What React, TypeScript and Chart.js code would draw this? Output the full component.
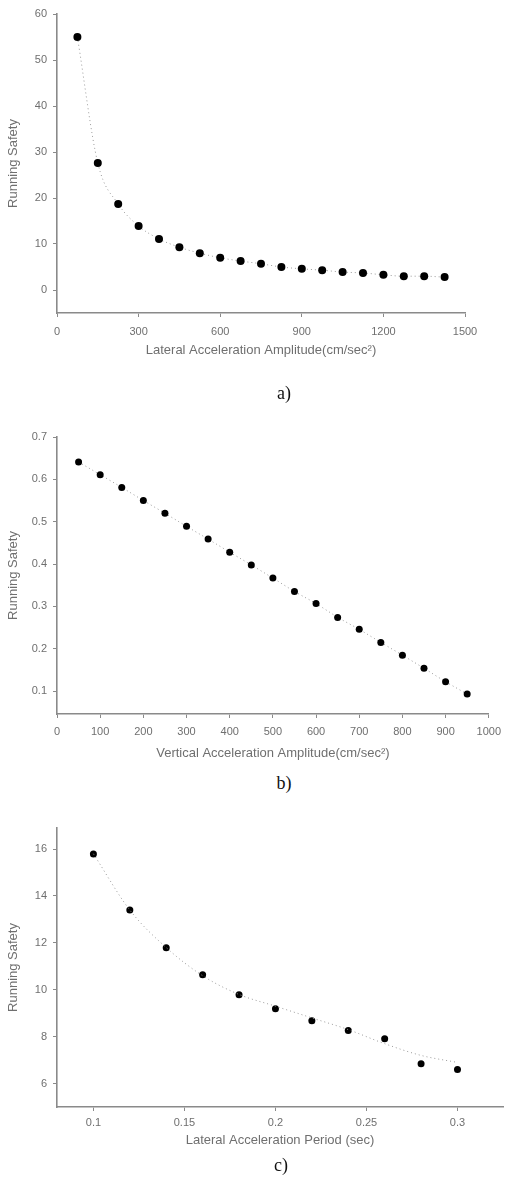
import React, { useEffect, useRef } from "react";
import { Chart, registerables } from "chart.js";

Chart.register(...registerables);

// ---------- chart a) ----------
const aX = [75, 150, 225, 300, 375, 450, 525, 600, 675, 750, 825, 900, 975, 1050, 1125, 1200, 1275, 1350, 1425];
const aY = [55.0, 27.6, 18.7, 13.9, 11.1, 9.3, 8.0, 7.0, 6.3, 5.7, 5.0, 4.6, 4.3, 3.9, 3.7, 3.3, 3.0, 3.0, 2.8];
const aXTicks = [0, 300, 600, 900, 1200, 1500];
const aYTicks = [0, 10, 20, 30, 40, 50, 60];

// ---------- chart b) ----------
const bX = [50, 100, 150, 200, 250, 300, 350, 400, 450, 500, 550, 600, 650, 700, 750, 800, 850, 900, 950];
const bY = [0.641, 0.611, 0.581, 0.55, 0.52, 0.489, 0.459, 0.428, 0.398, 0.367, 0.335, 0.307, 0.274, 0.246, 0.215, 0.185, 0.154, 0.122, 0.093];
const bXTicks = [0, 100, 200, 300, 400, 500, 600, 700, 800, 900, 1000];
const bYTicks = [0.1, 0.2, 0.3, 0.4, 0.5, 0.6, 0.7];

// ---------- chart c) ----------
const cX = [0.1, 0.12, 0.14, 0.16, 0.18, 0.2, 0.22, 0.24, 0.26, 0.28, 0.3];
const cY = [15.79, 13.4, 11.79, 10.64, 9.79, 9.19, 8.68, 8.26, 7.91, 6.85, 6.6];
const cTrend = [15.8, 13.4, 11.8, 10.6, 9.8, 9.3, 8.8, 8.3, 7.7, 7.2, 6.9];
const cXTicks = [0.1, 0.15, 0.2, 0.25, 0.3];
const cYTicks = [6, 8, 10, 12, 14, 16];

const TEXT = "#6f6f6f";
const AXIS = "#8a8a8a";
const FONT = "'Liberation Sans', Arial, sans-serif";

type Spec = {
  xs: number[];
  ys: number[];
  trend?: number[];
  xMin: number;
  xMax: number;
  yMin: number;
  yMax: number;
  xTicks: number[];
  yTicks: number[];
  xTitle: string;
  yTitle: string;
  padTop: number;
  padRight: number;
  padBottom: number;
  xScaleH: number;
  xTickPad: number;
  pointR: number;
  smooth: boolean;
};

function makeConfig(s: Spec): any {
  const pts = s.xs.map((x, i) => ({ x, y: s.ys[i] }));
  const datasets: any[] = [];
  if (s.trend) {
    datasets.push({
      data: s.xs.map((x, i) => ({ x, y: s.trend![i] })),
      showLine: true,
      borderColor: "#9a9a9a",
      borderWidth: 1,
      borderDash: [1, 3],
      pointRadius: 0,
      cubicInterpolationMode: "monotone",
    });
    datasets.push({
      data: pts,
      showLine: false,
      pointRadius: s.pointR,
      pointBackgroundColor: "#000",
      pointBorderColor: "#000",
      pointBorderWidth: 0,
    });
  } else {
    datasets.push({
      data: pts,
      showLine: true,
      borderColor: "#9a9a9a",
      borderWidth: 1,
      borderDash: [1, 3],
      cubicInterpolationMode: s.smooth ? "monotone" : "default",
      pointRadius: s.pointR,
      pointBackgroundColor: "#000",
      pointBorderColor: "#000",
      pointBorderWidth: 0,
    });
  }
  const grid = {
    drawOnChartArea: false,
    drawTicks: true,
    tickLength: 4,
    color: AXIS,
    lineWidth: 1,
  };
  const border = { display: true, color: AXIS, width: 1.6, dash: [2, 1] };
  return {
    type: "scatter",
    data: { datasets },
    options: {
      animation: false,
      responsive: false,
      events: [],
      layout: { padding: { left: 0, top: s.padTop, right: s.padRight, bottom: s.padBottom } },
      plugins: { legend: { display: false }, tooltip: { enabled: false } },
      scales: {
        x: {
          type: "linear",
          min: s.xMin,
          max: s.xMax,
          grid,
          border,
          afterBuildTicks: (sc: any) => {
            sc.ticks = s.xTicks.map((v) => ({ value: v }));
          },
          afterFit: (sc: any) => {
            sc.height = s.xScaleH;
          },
          ticks: {
            autoSkip: false,
            maxRotation: 0,
            padding: s.xTickPad,
            color: TEXT,
            font: { family: FONT, size: 11 },
            callback: (v: any) => String(v),
          },
          title: {
            display: true,
            text: s.xTitle,
            color: TEXT,
            padding: 0,
            font: { family: FONT, size: 13 },
          },
        },
        y: {
          type: "linear",
          min: s.yMin,
          max: s.yMax,
          grid,
          border,
          afterBuildTicks: (sc: any) => {
            sc.ticks = s.yTicks.map((v) => ({ value: v }));
          },
          afterFit: (sc: any) => {
            sc.width = 57;
          },
          ticks: {
            autoSkip: false,
            padding: 6,
            color: TEXT,
            font: { family: FONT, size: 11 },
            callback: (v: any) => String(v),
          },
          title: {
            display: true,
            text: s.yTitle,
            color: TEXT,
            padding: { top: 6, bottom: 0 },
            font: { family: FONT, size: 13 },
          },
        },
      },
    },
  };
}

function ChartBox({ top, height, spec }: { top: number; height: number; spec: Spec }) {
  const ref = useRef<HTMLCanvasElement | null>(null);
  useEffect(() => {
    if (!ref.current) return;
    const chart = new Chart(ref.current, makeConfig(spec));
    return () => chart.destroy();
  }, []);
  return (
    <canvas
      ref={ref}
      width={508}
      height={height}
      style={{ position: "absolute", left: 0, top, width: 508, height }}
    />
  );
}

const captionStyle: React.CSSProperties = {
  position: "absolute",
  fontFamily: "'Liberation Serif', 'Times New Roman', serif",
  fontSize: 18,
  color: "#111",
  lineHeight: "20px",
  width: 40,
  textAlign: "center",
};

export default function App() {
  const specA: Spec = {
    xs: aX, ys: aY, xMin: 0, xMax: 1500, yMin: -5, yMax: 60,
    xTicks: aXTicks, yTicks: aYTicks,
    xTitle: "Lateral Acceleration Amplitude(cm/sec²)", yTitle: "Running Safety",
    padTop: 14, padRight: 43, padBottom: 14.2, xScaleH: 44.8, xTickPad: 8, pointR: 4, smooth: true,
  };
  const specB: Spec = {
    xs: bX, ys: bY, xMin: 0, xMax: 1000, yMin: 0.046, yMax: 0.7,
    xTicks: bXTicks, yTicks: bYTicks,
    xTitle: "Vertical Acceleration Amplitude(cm/sec²)", yTitle: "Running Safety",
    padTop: 37, padRight: 11, padBottom: 11.2, xScaleH: 46.8, xTickPad: 7, pointR: 3.5, smooth: false,
  };
  const specC: Spec = {
    xs: cX, ys: cY, trend: cTrend, xMin: 0.08, xMax: 0.325, yMin: 5, yMax: 16.9,
    xTicks: cXTicks, yTicks: cYTicks,
    xTitle: "Lateral Acceleration Period (sec)", yTitle: "Running Safety",
    padTop: 28, padRight: 5, padBottom: 37.2, xScaleH: 40.8, xTickPad: 5, pointR: 3.5, smooth: true,
  };
  return (
    <div style={{ position: "absolute", left: 0, top: 0, width: 508, height: 1185, background: "#fff" }}>
      <ChartBox top={0} height={372} spec={specA} />
      <ChartBox top={400} height={372} spec={specB} />
      <ChartBox top={800} height={385} spec={specC} />
      <div style={{ ...captionStyle, left: 264, top: 383 }}>a)</div>
      <div style={{ ...captionStyle, left: 264, top: 773 }}>b)</div>
      <div style={{ ...captionStyle, left: 261, top: 1155 }}>c)</div>
    </div>
  );
}
